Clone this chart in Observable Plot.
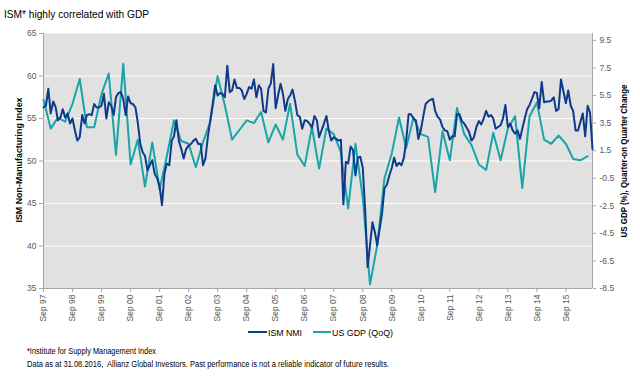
<!DOCTYPE html>
<html><head><meta charset="utf-8">
<script src="https://cdn.jsdelivr.net/npm/d3@7"></script>
<script src="https://cdn.jsdelivr.net/npm/@observablehq/plot@0.6"></script>
<style>
html,body{margin:0;padding:0;background:#fff;}
svg{display:block;font-family:"Liberation Sans",Arial,sans-serif;}
</style>
</head><body><div id="chart"></div>
<script>
// ---- data ----
const title = "ISM* highly correlated with GDP";
const leftAxisTitle = "ISM Non-Manufacturing Index";
const rightAxisTitle = "US GDP (%), Quarter-on Quarter Change";
const seriesNames = ["ISM NMI", "US GDP (QoQ)"];
const notes = [
  "*Institute for Supply Management Index",
  "Data as at 31.08.2016,  Allianz Global Investors. Past performance is not a reliable indicator of future results."
];
// monthly, Sep 1997 .. Aug 2016
const ismNmi = [
  56.3,56.5,58.5,55.6,57.0,56.3,54.8,55.1,56.1,55.1,
  55.6,54.4,55.0,53.6,52.4,52.8,55.4,54.4,55.4,55.5,
  55.4,56.7,56.3,56.3,56.5,57.9,55.0,56.9,56.5,55.4,
  57.5,58.0,58.1,57.3,55.4,57.6,56.8,56.7,56.3,54.5,
  52.0,51.0,50.6,48.9,49.5,50.1,48.5,48.0,47.0,44.8,
  48.5,49.7,49.5,52.4,52.9,54.8,52.4,51.4,50.3,51.4,
  51.8,52.0,52.4,52.6,52.0,52.0,49.5,50.3,52.8,54.8,
  56.7,58.9,57.7,58.0,57.9,57.5,61.2,58.1,58.3,59.6,
  58.6,58.6,58.3,57.3,57.9,58.7,58.5,59.6,57.5,58.9,
  58.5,55.9,55.7,58.5,59.1,61.4,56.2,57.7,59.1,57.9,
  55.9,57.3,57.7,58.4,57.1,55.4,55.2,53.8,54.8,54.7,
  54.4,53.9,55.3,54.8,52.8,53.6,54.4,55.3,53.6,52.4,
  52.8,52.6,52.4,52.5,44.9,49.9,49.7,51.7,51.3,48.3,
  50.4,50.5,49.2,44.2,37.5,40.1,42.8,41.6,40.1,42.0,
  43.8,46.8,47.2,48.3,49.2,50.4,49.4,49.8,
  49.5,50.4,52.4,55.5,55.5,55.0,54.8,52.6,53.6,55.2,
  56.7,57.0,57.2,57.3,55.9,55.2,54.9,54.0,53.6,53.5,
  52.5,52.9,52.9,55.5,55.5,54.7,54.4,53.9,53.4,52.4,
  52.8,54.0,54.7,54.3,55.0,55.9,55.2,55.4,55.0,53.8,
  54.0,54.2,55.0,56.6,54.0,54.4,53.6,53.2,53.6,52.6,
  53.8,55.0,56.1,56.6,57.3,58.1,58.0,56.2,59.3,56.9,
  57.0,57.0,57.1,57.5,55.9,56.1,59.6,58.2,56.8,58.3,
  56.5,55.9,53.6,53.6,54.6,55.6,52.9,56.5,55.7,51.4
];
// quarterly (plotted at quarter-end month), Q3 1997 .. Q2 2016
const gdpQoQ = [
  5.2,3.1,3.9,3.6,4.9,6.7,3.2,3.2,5.6,7.1,
  1.2,7.8,0.5,2.3,-1.1,2.1,-1.3,1.1,3.7,2.2,
  2.0,0.3,2.1,3.6,6.9,4.8,2.3,3.0,3.7,3.5,
  4.3,2.1,3.4,2.3,4.9,1.2,0.4,3.2,0.2,3.1,
  2.7,1.4,-2.7,2.0,-1.9,-8.2,-5.4,-0.5,1.3,3.9,
  1.7,3.9,2.7,2.5,-1.5,2.9,0.8,4.6,2.7,1.9,
  0.5,0.1,2.8,0.8,3.1,4.0,-1.2,4.0,5.0,2.3,
  2.0,2.6,2.0,0.9,0.8,1.1
];
const xTickLabels = ["Sep 97","Sep 98","Sep 99","Sep 00","Sep 01","Sep 02","Sep 03","Sep 04","Sep 05","Sep 06","Sep 07","Sep 08","Sep 09","Sep 10","Sep 11","Sep 12","Sep 13","Sep 14","Sep 15"];
const leftTicks = [35,40,45,50,55,60,65];
const leftGrid = [40,45,50,55,60];
const rightTicks = [-8.5,-6.5,-4.5,-2.5,-0.5,1.5,3.5,5.5,7.5,9.5];

// ---- scales helpers ----
const ismMin = 35, ismMax = 65, gdpMin = -8.5, gdpMax = 10;
const toLeft = g => ismMin + (g - gdpMin) * (ismMax - ismMin) / (gdpMax - gdpMin);
const fromLeft = v => gdpMin + (v - ismMin) * (gdpMax - gdpMin) / (ismMax - ismMin);
const month = i => new Date(Date.UTC(1997, 8 + i, 1));
const ismRows = ismNmi.map((v, i) => ({date: month(i), value: v}));
const gdpRows = gdpQoQ.map((v, k) => ({date: month(3 * k), value: v}));
const xStart = month(0), xEnd = month(ismNmi.length - 1);
const xTickDates = xTickLabels.map((_, i) => month(12 * i));
const labelMap = new Map(xTickDates.map((d, i) => [+d, xTickLabels[i]]));
const navy = "#0e3a8c", teal = "#19a5a8", axisGray = "#a6a6a6";

const chart = Plot.plot({
  width: 640, height: 378,
  marginLeft: 43, marginRight: 48, marginTop: 33, marginBottom: 90,
  x: {type: "utc", domain: [xStart, xEnd]},
  y: {domain: [ismMin, ismMax]},
  style: {fontFamily: "'Liberation Sans', Arial, sans-serif", fontSize: "8.5px", color: "#595959", background: "#fff"},
  marks: [
    Plot.frame({fill: "#e1e1e1", stroke: null}),
    Plot.gridY(leftGrid, {stroke: "#ffffff", strokeOpacity: 1, strokeWidth: 1.2}),
    Plot.ruleY([ismMin], {stroke: axisGray}),
    Plot.ruleX([xStart], {stroke: axisGray}),
    Plot.ruleX([xEnd], {stroke: axisGray}),
    Plot.axisY(leftTicks, {anchor: "left", tickSize: 4, tickPadding: 3, label: null, fontSize: 8.5, stroke: axisGray}),
    Plot.axisY(rightTicks.map(toLeft), {anchor: "right", tickSize: 3, tickPadding: 4, label: null, fontSize: 8.5, stroke: axisGray,
      tickFormat: d => fromLeft(d).toFixed(1)}),
    Plot.axisX(xTickDates, {anchor: "bottom", tickSize: 4, tickPadding: 2, tickRotate: -90, label: null, fontSize: 8.5, stroke: axisGray,
      tickFormat: d => labelMap.get(+d)}),
    Plot.line(gdpRows, {x: "date", y: d => toLeft(d.value), stroke: teal, strokeWidth: 2}),
    Plot.line(ismRows, {x: "date", y: "value", stroke: navy, strokeWidth: 2})
  ]
});
document.getElementById("chart").appendChild(chart);

// ---- titles, legend, notes ----
const svg = d3.select(chart);
function txt(x, y, s, o = {}) {
  const t = svg.append("text").attr("x", x).attr("y", y).text(s)
    .attr("fill", o.fill || "#000").attr("font-size", o.size || 9)
    .attr("font-weight", o.weight || "normal")
    .attr("text-anchor", o.anchor || "start");
  if (o.len) t.attr("textLength", o.len).attr("lengthAdjust", "spacingAndGlyphs");
  if (o.rotate) t.attr("transform", `rotate(${o.rotate},${x},${y})`);
  return t;
}
txt(4, 18, title, {size: 11.5, fill: "#000", len: 145});
txt(21.5, 160, leftAxisTitle, {size: 9, weight: "bold", anchor: "middle", rotate: -90, len: 125});
txt(626.5, 161, rightAxisTitle, {size: 9, weight: "bold", anchor: "middle", rotate: -90, len: 153});
// legend
svg.append("line").attr("x1", 248).attr("x2", 267).attr("y1", 332).attr("y2", 332).attr("stroke", navy).attr("stroke-width", 2);
txt(268, 335.5, seriesNames[0], {size: 8.8, fill: "#000", len: 34});
svg.append("line").attr("x1", 313).attr("x2", 331).attr("y1", 332).attr("y2", 332).attr("stroke", teal).attr("stroke-width", 2);
txt(332, 335.5, seriesNames[1], {size: 8.8, fill: "#000", len: 61});
// notes
txt(27, 353.5, notes[0], {size: 8.3, fill: "#000", len: 129});
txt(27, 367, notes[1], {size: 8.3, fill: "#000", len: 362});
</script>
</body></html>
